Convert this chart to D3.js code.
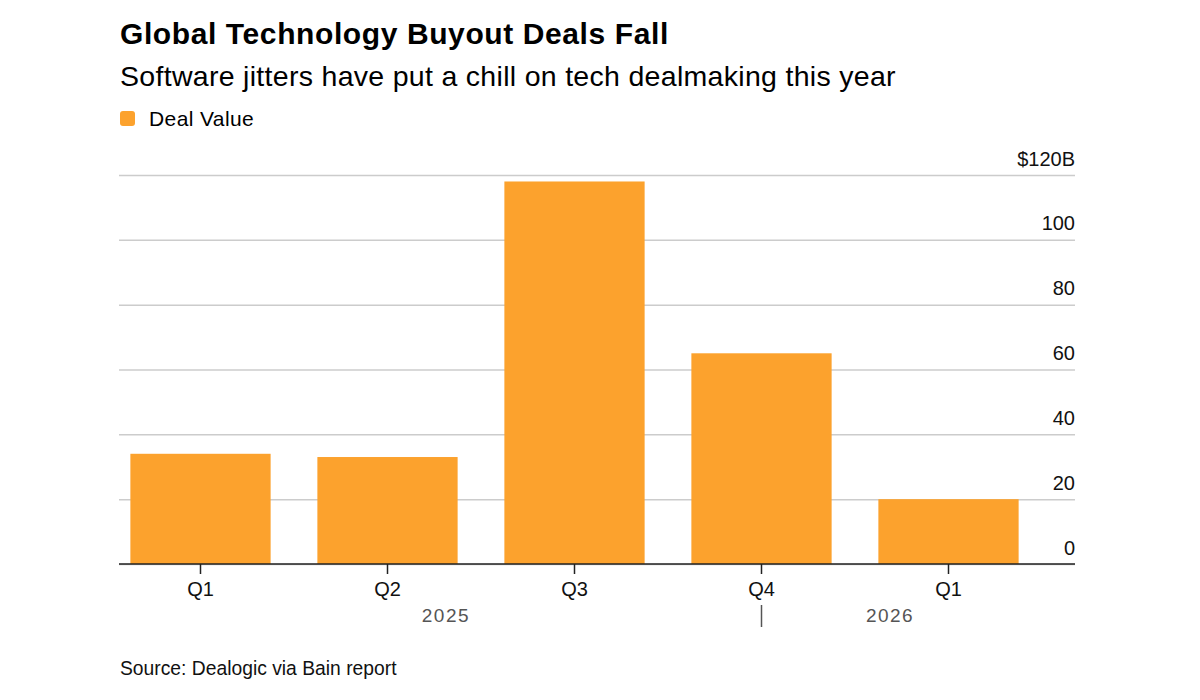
<!DOCTYPE html>
<html>
<head>
<meta charset="utf-8">
<script src="https://cdn.jsdelivr.net/npm/d3@7"></script>
<style>
    body { margin: 0; background: #fff; }
    text { font-family: "Liberation Sans", Arial, sans-serif; }
</style>
</head>
<body>
<div id="chart"></div>
<script>
'use strict';

// Data
const quarters = ['Q1', 'Q2', 'Q3', 'Q4', 'Q1'];
const years = ['2025', '2025', '2025', '2025', '2026'];
const dealValue = [34, 33, 118, 65, 20];
const yTicks = [0, 20, 40, 60, 80, 100, 120];

// Configs
const svgW = 1200;
const svgH = 700;
const plotL = 119;
const plotR = 1075;
const plotTop = 175;
const plotBottom = 564;
const barColor = '#fca22d';

const svg = d3.select('#chart')
    .append('svg')
    .attr('width', svgW)
    .attr('height', svgH);

// Tools
const keys = quarters.map((q, i) => `${q}-${years[i]}`);
const xScale = d3.scaleBand()
    .domain(keys)
    .range([107, 1042])
    .paddingInner(0.25)
    .paddingOuter(0.125);
const yScale = d3.scaleLinear()
    .domain([0, 120])
    .range([plotBottom, plotTop]);

// Titles
svg.append('text')
    .attr('x', 120).attr('y', 44)
    .style('font-size', '30px').style('font-weight', 'bold')
    .style('letter-spacing', '0.6px')
    .text('Global Technology Buyout Deals Fall');
svg.append('text')
    .attr('x', 120).attr('y', 86)
    .style('font-size', '28.5px')
    .style('letter-spacing', '0.3px')
    .text('Software jitters have put a chill on tech dealmaking this year');

// Legend
svg.append('rect')
    .attr('x', 120).attr('y', 111)
    .attr('width', 15).attr('height', 15)
    .attr('rx', 3)
    .attr('fill', barColor);
svg.append('text')
    .attr('x', 149).attr('y', 126)
    .style('font-size', '21px')
    .style('letter-spacing', '0.4px')
    .text('Deal Value');

// Grid + y labels
const yAxis = d3.axisRight(yScale)
    .tickValues(yTicks)
    .tickSize(plotR - plotL)
    .tickFormat(d => d === 120 ? '$120B' : d);
const yAxisG = svg.append('g')
    .attr('transform', `translate(${plotL},0)`)
    .call(yAxis);
yAxisG.select('.domain').remove();
yAxisG.selectAll('.tick line')
    .attr('stroke', '#cccccc')
    .attr('stroke-width', 1.5);
yAxisG.selectAll('.tick text')
    .attr('x', plotR - plotL)
    .attr('dy', '-10px')
    .attr('text-anchor', 'end')
    .style('font-size', '20px')
    .style('font-family', '"Liberation Sans", Arial, sans-serif')
    .attr('fill', '#111');

// Bars
svg.append('g')
    .selectAll('rect')
    .data(dealValue)
    .join('rect')
    .attr('x', (d, i) => xScale(keys[i]))
    .attr('y', d => yScale(d))
    .attr('width', xScale.bandwidth())
    .attr('height', d => yScale(0) - yScale(d))
    .attr('fill', barColor);

// Baseline + x axis
const xAxis = d3.axisBottom(xScale)
    .tickSize(10)
    .tickPadding(8)
    .tickFormat(k => k.split('-')[0]);
const xAxisG = svg.append('g')
    .attr('transform', `translate(0,${plotBottom})`)
    .call(xAxis);
xAxisG.select('.domain').remove();
xAxisG.selectAll('.tick line').attr('stroke', '#222').attr('stroke-width', 1.5);
xAxisG.selectAll('.tick text')
    .style('font-size', '20px')
    .style('font-family', '"Liberation Sans", Arial, sans-serif')
    .attr('fill', '#111');
svg.append('line')
    .attr('x1', plotL).attr('x2', plotR)
    .attr('y1', plotBottom).attr('y2', plotBottom)
    .attr('stroke', '#222').attr('stroke-width', 1.5);

// Year labels
const sepX = xScale(keys[3]) + xScale.bandwidth() / 2;
const firstX = xScale(keys[0]);
const lastX = xScale(keys[4]) + xScale.bandwidth();
svg.append('line')
    .attr('x1', sepX).attr('x2', sepX)
    .attr('y1', 605).attr('y2', 627)
    .attr('stroke', '#555').attr('stroke-width', 1.5);
[
    {label: '2025', x: (firstX + sepX) / 2},
    {label: '2026', x: (sepX + lastX) / 2}
].forEach(d => {
    svg.append('text')
        .attr('x', d.x).attr('y', 622)
        .attr('text-anchor', 'middle')
        .style('font-size', '19px')
        .style('letter-spacing', '1.5px')
        .attr('fill', '#555')
        .text(d.label);
});

// Source
svg.append('text')
    .attr('x', 120).attr('y', 675)
    .style('font-size', '19.3px')
    .attr('fill', '#111')
    .text('Source: Dealogic via Bain report');
</script>
</body>
</html>
